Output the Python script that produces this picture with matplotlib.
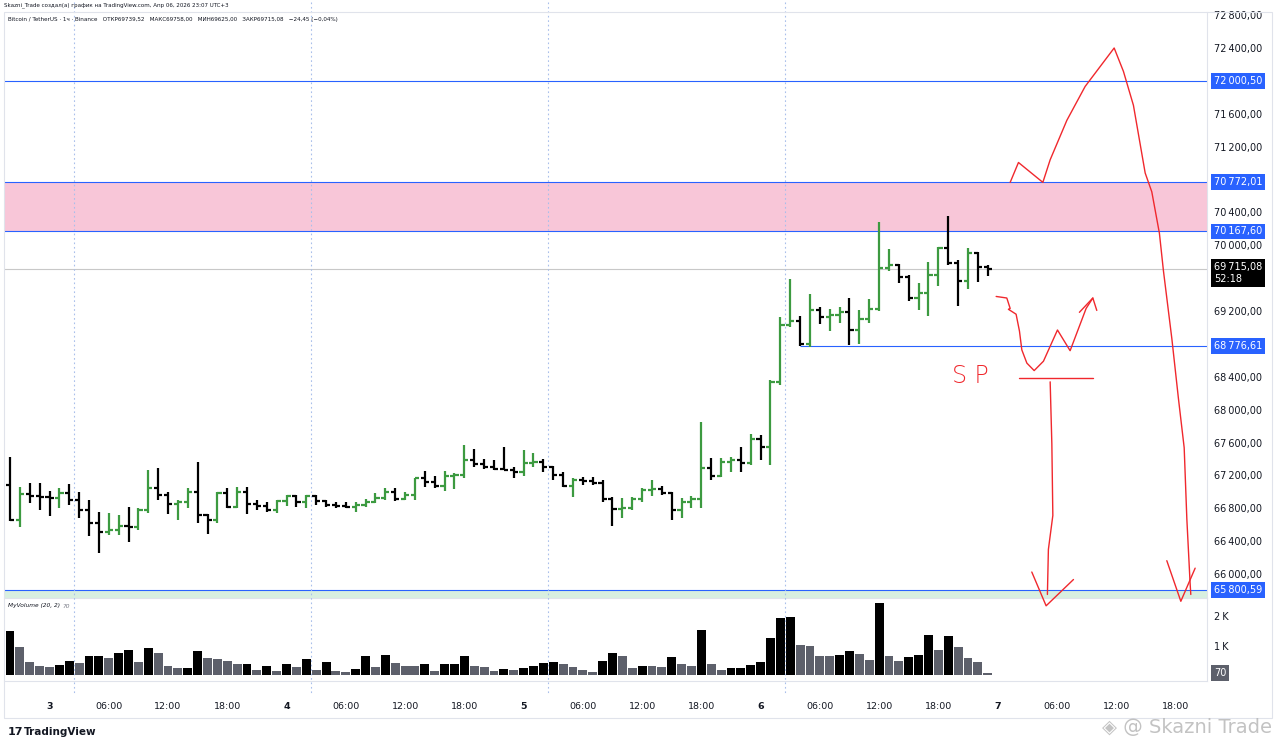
import numpy as np
import matplotlib
matplotlib.use("Agg")
import matplotlib.pyplot as plt
from matplotlib.ticker import FuncFormatter
from matplotlib.transforms import blended_transform_factory
from matplotlib.patches import Rectangle

# BTCUSDT 1h bars, index 0 = Apr 2, 20:00
opens = [67080, 66660, 66971, 66946, 66934, 66922, 66983, 66898, 66776, 66618,
         66508, 66533, 66582, 66569, 66776, 67044, 66958, 66849, 66873, 66995,
         66715, 66654, 66983, 66813, 66995, 66849, 66828, 66776, 66885, 66950,
         66877, 66950, 66885, 66837, 66828, 66817, 66845, 66877, 66930, 67000,
         66918, 66967, 67162, 67121, 67072, 67190, 67202, 67384, 67344, 67303,
         67283, 67270, 67238, 67348, 67360, 67299, 67202, 67068, 67141, 67129,
         67105, 66910, 66788, 66800, 66910, 67019, 67032, 66983, 66776, 66873,
         66910, 67287, 67190, 67360, 67384, 67348, 67640, 67543, 68334, 69027,
         69075, 68795, 69209, 69124, 69148, 69185, 68966, 69100, 69221, 69720,
         69757, 69611, 69355, 69416, 69635, 69964, 69781, 69562, 69903, 69739.52]
highs = [67421, 67056, 67105, 67105, 67007, 67044, 67093, 66995, 66898, 66752,
         66740, 66715, 66813, 66800, 67263, 67287, 66995, 66898, 67044, 67360,
         66730, 66995, 67044, 67056, 67056, 66898, 66877, 66898, 66967, 66967,
         66967, 66967, 66898, 66877, 66877, 66877, 66918, 66983, 67048, 67048,
         67000, 67170, 67259, 67190, 67259, 67223, 67567, 67518, 67405, 67384,
         67543, 67299, 67506, 67470, 67397, 67310, 67238, 67166, 67178, 67178,
         67141, 66934, 66922, 66934, 67044, 67141, 67068, 66995, 66922, 66946,
         67847, 67409, 67409, 67421, 67543, 67701, 67689, 68358, 69124, 69586,
         69136, 69404, 69246, 69221, 69246, 69355, 69209, 69343, 70280, 69951,
         69769, 69635, 69538, 69793, 69976, 70353, 69817, 69964, 69915, 69758]
lows = [66650, 66569, 66861, 66776, 66703, 66800, 66837, 66679, 66460, 66253,
        66472, 66472, 66387, 66533, 66740, 66898, 66727, 66654, 66800, 66618,
        66484, 66618, 66800, 66800, 66727, 66776, 66755, 66748, 66828, 66817,
        66804, 66837, 66817, 66804, 66804, 66755, 66817, 66860, 66898, 66885,
        66898, 66898, 67056, 67048, 67007, 67040, 67162, 67303, 67283, 67263,
        67260, 67166, 67190, 67299, 67238, 67141, 67056, 66934, 67080, 67080,
        66873, 66581, 66679, 66776, 66873, 66946, 66958, 66654, 66679, 66800,
        66800, 67141, 67178, 67238, 67238, 67324, 67384, 67324, 68297, 69002,
        68776.61, 68759, 69039, 68954, 69051, 68783, 68795, 69051, 69197, 69684,
        69538, 69319, 69209, 69136, 69501, 69757, 69258, 69465, 69550, 69625]
closes = [66660, 66971, 66946, 66934, 66922, 66983, 66898, 66776, 66618, 66508,
          66533, 66582, 66569, 66776, 67044, 66958, 66849, 66873, 66995, 66715,
          66654, 66983, 66813, 66995, 66849, 66828, 66776, 66885, 66950, 66877,
          66950, 66885, 66837, 66828, 66817, 66845, 66877, 66930, 67000, 66918,
          66967, 67162, 67121, 67072, 67190, 67202, 67384, 67344, 67303, 67283,
          67270, 67238, 67348, 67360, 67299, 67202, 67068, 67141, 67129, 67105,
          66910, 66788, 66800, 66910, 67019, 67032, 66983, 66776, 66873, 66910,
          67287, 67190, 67360, 67384, 67348, 67640, 67543, 68334, 69027, 69075,
          68795, 69209, 69124, 69148, 69185, 68966, 69100, 69221, 69720, 69757,
          69611, 69355, 69416, 69635, 69964, 69781, 69562, 69903, 69740, 69715.08]
volumes = [1494, 954, 437, 299, 276, 356, 471, 402, 632, 644,
           586, 747, 839, 448, 908, 736, 310, 230, 241, 828,
           575, 540, 483, 368, 379, 184, 299, 138, 379, 287,
           540, 161, 437, 149, 92, 195, 644, 276, 690, 414,
           310, 299, 368, 149, 368, 379, 655, 310, 276, 126,
           195, 172, 241, 322, 402, 448, 379, 276, 161, 92,
           471, 747, 632, 241, 310, 299, 276, 621, 368, 310,
           1517, 368, 161, 230, 241, 345, 448, 1241, 1931, 1965,
           1023, 977, 655, 644, 690, 828, 724, 517, 2448, 644,
           460, 621, 678, 1368, 839, 1322, 954, 563, 448, 70]

level_prices = [72000.50, 70772.01, 70167.60, 68776.61, 65800.59]
zone_low, zone_high = 70167.60, 70772.01
last_price = 69715.08
countdown = "52:18"

# hand drawn red sketch (hour index, price)
big_x = [101.27, 102.11, 104.58, 105.32, 107.01, 108.86, 111.8, 112.74, 113.75, 114.94,
         115.61, 116.38, 116.79, 117.64, 118.31, 118.89, 119.16, 119.49, 119.56]
big_y = [70765, 71007, 70765, 71040, 71520, 71932, 72400, 72115, 71703, 70879,
         70650, 70147, 69688, 68864, 68132, 67536, 66666, 65887, 65751]
big_head_x = [117.13, 118.55, 120.0]
big_head_y = [66162, 65668, 66071]
wave_x = [99.85, 100.93, 101.27, 101.09, 101.87, 102.21, 102.45, 102.96, 103.7, 104.64,
          106.06, 107.34, 108.96, 109.64]
wave_y = [69377, 69358, 69231, 69221, 69161, 68956, 68727, 68566, 68475, 68589,
          68969, 68717, 69231, 69358]
wave_head_x = [108.28, 109.64, 110.04]
wave_head_y = [69184, 69358, 69207]
sp_line_x = [102.21, 109.7]
sp_line_y = [68390, 68390]
sp_drop_x = [105.32, 105.49, 105.59, 105.14, 105.04]
sp_drop_y = [68338, 67582, 66712, 66299, 65751]
sp_head_x = [103.46, 104.91, 107.68]
sp_head_y = [66024, 65613, 65933]

session_breaks = [6.5, 30.5, 54.5, 78.5]

GREEN = "#3c9a40"
BLUE = "#2962ff"
RED = "#f0282d"
TXT = "#131722"
W, H = 1280, 748

plt.rcParams['font.family'] = ['DejaVu Sans']


def box(l, t, r, b):
    return [l / W, 1 - b / H, (r - l) / W, (b - t) / H]


def fmt(v):
    return f"{v:,.2f}".replace(",", "\u202f").replace(".", ",")


fig = plt.figure(figsize=(12.8, 7.48), dpi=100)
ax = fig.add_axes(box(4, 12, 1207, 598))
axv = fig.add_axes(box(4, 598, 1207, 681), sharex=ax)

o = np.array(opens, float)
h = np.array(highs, float)
l = np.array(lows, float)
c = np.array(closes, float)
v = np.array(volumes, float)
idx = np.arange(len(o))
col = np.where(c >= o, GREEN, "black")

x0, x1 = -0.61, 121.2
ax.set_xlim(x0, x1)
ax.set_ylim(65708, 72838)

# zones and levels
ax.axhspan(zone_low, zone_high, color="#f8c6d8", lw=0, zorder=0)
ax.axhspan(65708, level_prices[-1], color="#d8efe0", lw=0, zorder=0)
ax.axhline(last_price, color="#c8c8c8", lw=0.8, zorder=1)
for p in level_prices:
    xs = 80 if p == 68776.61 else x0
    ax.hlines(p, xs, x1, color=BLUE, lw=0.8, zorder=1)

# OHLC bars
ax.vlines(idx, l, h, colors=col, lw=1.6, zorder=3)
ax.hlines(o, idx - 0.42, idx, colors=col, lw=1.6, zorder=3)
ax.hlines(c, idx, idx + 0.42, colors=col, lw=1.6, zorder=3)

# volume: black when volume rises vs previous bar
rising = np.r_[True, v[1:] > v[:-1]]
axv.bar(idx, v, width=0.9, color=np.where(rising, "black", "#5d606b"), lw=0)
axv.set_ylim(-203, 2610)

# session break lines
tr = blended_transform_factory(ax.transData, fig.transFigure)
for s in session_breaks:
    fig.lines.append(plt.Line2D([s, s], [1 - 2 / H, 1 - 693 / H], transform=tr,
                                color="#a9bfeb", lw=0.8, ls=(0, (1.5, 2.5)), zorder=0))

# price scale
ticks = [t for t in range(66000, 72801, 400)
         if min(abs(t - p) for p in level_prices + [last_price]) > 150]
ax.yaxis.tick_right()
ax.set_yticks(ticks)
ax.yaxis.set_major_formatter(FuncFormatter(lambda y, _: fmt(y)))
ax.tick_params(axis="y", length=0, pad=5, labelsize=7, labelcolor=TXT)
ax.tick_params(axis="x", length=0, labelbottom=False)
yt = ax.get_yaxis_transform()
for p in level_prices:
    ax.text(1.0058, p, fmt(p), transform=yt, color="white", fontsize=7, va="center", ha="left",
            bbox=dict(boxstyle="square,pad=0.3", fc=BLUE, ec="none"), clip_on=False)
ax.annotate(fmt(last_price) + "\n" + countdown, xy=(1.0058, last_price), xycoords=yt,
            xytext=(0, 5), textcoords="offset points", va="top", ha="left", color="white",
            fontsize=7, linespacing=1.25,
            bbox=dict(boxstyle="square,pad=0.3", fc="black", ec="none"), annotation_clip=False)

axv.yaxis.tick_right()
axv.set_yticks([1000, 2000])
axv.set_yticklabels(["1\u202fK", "2\u202fK"])
axv.tick_params(axis="y", length=0, pad=5, labelsize=7, labelcolor=TXT)
axv.text(1.0058, v[-1], f"{int(v[-1])}", transform=axv.get_yaxis_transform(), color="white",
         fontsize=7, va="center", ha="left",
         bbox=dict(boxstyle="square,pad=0.3", fc="#5d606b", ec="none"), clip_on=False)

# time axis
xt = list(range(4, 119, 6))
xl = []
for t in xt:
    hr = (t - 4) % 24
    xl.append(str(3 + (t - 4) // 24) if hr == 0 else f"{hr:02d}:00")
axv.set_xticks(xt)
axv.set_xticklabels(xl)
axv.tick_params(axis="x", length=0, pad=15, labelsize=6.8, labelcolor=TXT)
for lab in axv.get_xticklabels():
    if ":" not in lab.get_text():
        lab.set_fontweight("bold")

for a in (ax, axv):
    for sp in a.spines.values():
        sp.set_color("#e0e3eb")
        sp.set_linewidth(0.8)
    a.spines["left"].set_visible(False)
    a.spines["top"].set_visible(False)
    a.set_facecolor("none")

fig.patches.append(Rectangle((4 / W, 1 - 718 / H), 1268 / W, 706 / H, transform=fig.transFigure,
                             fill=False, ec="#e0e3eb", lw=0.8))

# red sketch
kw = dict(color=RED, lw=1.0, clip_on=False, zorder=5, solid_capstyle="round")
ax.plot(big_x, big_y, **kw)
ax.plot(big_head_x, big_head_y, **kw)
ax.plot(wave_x, wave_y, **kw)
ax.plot(wave_head_x, wave_head_y, **kw)
ax.plot(sp_line_x, sp_line_y, **kw)
ax.plot(sp_drop_x, sp_drop_y, **kw)
ax.plot(sp_head_x, sp_head_y, **kw)
ax.text(97.2, 68415, "S P", color=RED, fontsize=17, fontweight="light", ha="center", va="center")

# header / footer texts
fig.text(4 / W, 1 - 5 / H, "Skazni_Trade создал(а) график на TradingView.com, Апр 06, 2026 23:07 UTC+3",
         fontsize=4, color=TXT, va="center")
fig.text(8 / W, 1 - 19 / H,
         "Bitcoin / TetherUS · 1ч · Binance   ОТКР69739,52   МАКС69758,00   МИН69625,00   "
         "ЗАКР69715,08   −24,45 (−0,04%)", fontsize=4.1, color=TXT, va="center")
fig.text(8 / W, 1 - 606 / H, "MyVolume (20, 2)", fontsize=4.2, color=TXT, va="center", style="italic")
fig.text(62 / W, 1 - 606 / H, "70", fontsize=4.2, color="#787b86", va="center", style="italic")
fig.text(8 / W, 1 - 732 / H, "17", fontsize=8, fontweight="bold", color=TXT, va="center")
fig.text(24 / W, 1 - 732 / H, "TradingView", fontsize=7.5, fontweight="bold", color=TXT, va="center")
fig.text(1272 / W, 1 - 727 / H, "◈ @ Skazni Trade", fontsize=14, color="#b4b4b4", alpha=0.8,
         ha="right", va="center")

fig.savefig("out.png", dpi=100, facecolor="white")
